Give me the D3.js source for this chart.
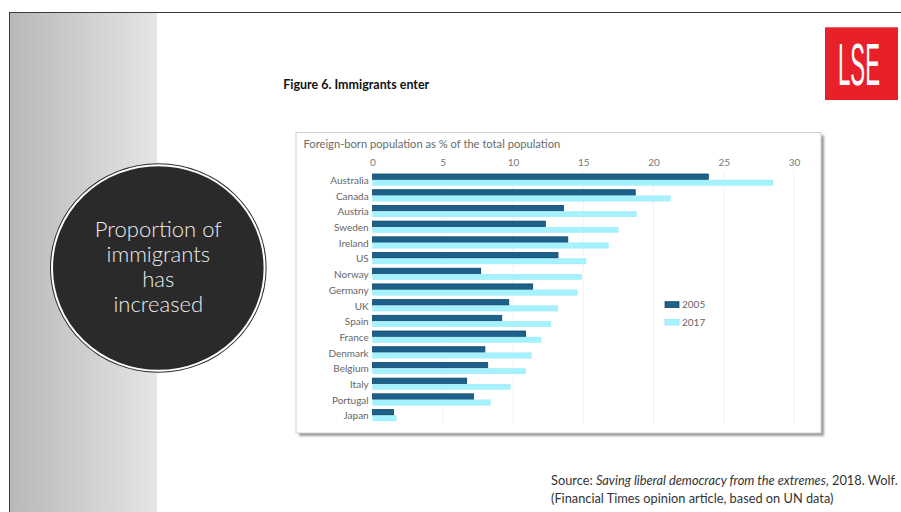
<!DOCTYPE html>
<html>
<head>
<meta charset="utf-8">
<script src="https://cdn.jsdelivr.net/npm/d3@7"></script>
<style>
  html, body { margin: 0; padding: 0; background: #fff; overflow: hidden; }
  svg { display: block; }
</style>
</head>
<body>
<svg id="slide" width="901" height="512"></svg>
<script>
// Foreign-born population as % of total population, 2005 vs 2017
const countries = ["Australia", "Canada", "Austria", "Sweden", "Ireland", "US", "Norway", "Germany",
                   "UK", "Spain", "France", "Denmark", "Belgium", "Italy", "Portugal", "Japan"];
const share2005 = [23.9, 18.7, 13.6, 12.3, 13.9, 13.2, 7.7, 11.4, 9.7, 9.2, 10.9, 8.0, 8.2, 6.7, 7.2, 1.5];
const share2017 = [28.5, 21.2, 18.8, 17.5, 16.8, 15.2, 14.9, 14.6, 13.2, 12.7, 12.0, 11.3, 10.9, 9.8, 8.4, 1.7];
const years = ["2005", "2017"];
const xTicks = [0, 5, 10, 15, 20, 25, 30];

const yearColor = { "2005": "#1d6089", "2017": "#a5f1fd" };
const yearStroke = { "2005": "#0f4868", "2017": "#92e6f4" };

const rows = countries.map((c, i) => ({ country: c, values: { "2005": share2005[i], "2017": share2017[i] } }));

const svg = d3.select("#slide");
const defs = svg.append("defs");

// scale a text element's font size so that it spans the given width
function fitWidth(sel, width) {
  const w = sel.node().getComputedTextLength();
  const fs = parseFloat(sel.attr("font-size"));
  sel.attr("font-size", (fs * width / w).toFixed(2));
  return fs * width / w;
}

// ---- slide frame -------------------------------------------------------
const grad = defs.append("linearGradient").attr("id", "panelGrad")
  .attr("x1", "0%").attr("x2", "100%").attr("y1", "0%").attr("y2", "0%");
grad.append("stop").attr("offset", "0%").attr("stop-color", "#b8b8b8");
grad.append("stop").attr("offset", "100%").attr("stop-color", "#e5e5e5");

svg.append("rect").attr("x", 10).attr("y", 12).attr("width", 147).attr("height", 500)
  .attr("fill", "url(#panelGrad)");
svg.append("line").attr("x1", 9.5).attr("x2", 901).attr("y1", 12.5).attr("y2", 12.5)
  .attr("stroke", "#3a3a3a").attr("stroke-width", 1);
svg.append("line").attr("x1", 9.5).attr("x2", 9.5).attr("y1", 12).attr("y2", 512)
  .attr("stroke", "#3a3a3a").attr("stroke-width", 1);

// ---- circular callout ---------------------------------------------------
const callout = svg.append("g").attr("transform", "translate(158.3,268)");
callout.append("ellipse").attr("rx", 108.3).attr("ry", 104.8).attr("fill", "#2a2a2a");
callout.append("ellipse").attr("rx", 106.3).attr("ry", 102.8).attr("fill", "none")
  .attr("stroke", "#ffffff").attr("stroke-width", 2);
const calloutLines = ["Proportion of", "immigrants", "has", "increased"];
const calloutText = callout.selectAll("text.callout").data(calloutLines).join("text")
  .attr("class", "callout")
  .attr("x", 0)
  .attr("y", (d, i) => -38.7 + i * 25 + 7.5)
  .attr("text-anchor", "middle")
  .attr("font-family", "Lato, 'Open Sans', sans-serif")
  .attr("font-weight", 300)
  .attr("font-size", 20)
  .attr("fill", "#ededed")
  .text(d => d);
const calloutSize = fitWidth(d3.select(calloutText.nodes()[0]), 127);
calloutText.attr("font-size", calloutSize.toFixed(2));

// ---- LSE logo -----------------------------------------------------------
svg.append("rect").attr("x", 825).attr("y", 27.3).attr("width", 73).attr("height", 72.7)
  .attr("fill", "#e8202a");
const logo = svg.append("text").attr("x", 0).attr("y", 0)
  .attr("font-family", "'Liberation Sans Narrow', 'Liberation Sans', Arial, sans-serif")
  .attr("font-size", 59)
  .attr("fill", "#ffffff")
  .text("LSE");
const logoW = logo.node().getComputedTextLength();
logo.attr("transform", `translate(838,85) scale(${(42 / logoW).toFixed(4)},1)`);

// ---- figure title -------------------------------------------------------
const title = svg.append("text").attr("x", 283.3).attr("y", 89.3)
  .attr("font-family", "Lato, 'Open Sans', sans-serif")
  .attr("font-weight", 700).attr("font-size", 11).attr("fill", "#111")
  .text("Figure 6. Immigrants enter");
fitWidth(title, 146);

// ---- chart panel --------------------------------------------------------
const shadow = defs.append("filter").attr("id", "boxShadow")
  .attr("x", "-5%").attr("y", "-5%").attr("width", "110%").attr("height", "110%");
shadow.append("feGaussianBlur").attr("stdDeviation", 1.2);

const box = { x: 296, y: 132.5, w: 525, h: 300.5 };
svg.append("rect").attr("x", box.x + 3).attr("y", box.y + 3).attr("width", box.w).attr("height", box.h)
  .attr("fill", "#9a9a9a").attr("filter", "url(#boxShadow)");
svg.append("rect").attr("x", box.x).attr("y", box.y).attr("width", box.w).attr("height", box.h)
  .attr("fill", "#ffffff").attr("stroke", "#cfcfcf").attr("stroke-width", 1);

const subtitle = svg.append("text").attr("x", 303.5).attr("y", 147.6)
  .attr("font-family", "Lato, 'Open Sans', sans-serif")
  .attr("font-size", 10).attr("fill", "#6a6a6a")
  .text("Foreign-born population as % of the total population");
fitWidth(subtitle, 257);

// scales
const x = d3.scaleLinear().domain([0, 30]).range([372.5, 794]);
const y = d3.scaleBand().domain(countries).range([171.9, 423.1])
  .paddingInner(0.27).paddingOuter(0.135);
const ySub = d3.scaleBand().domain(years).range([0, y.bandwidth()]).paddingInner(0.08);

// faint vertical gridlines
svg.append("g").selectAll("line").data(xTicks.slice(1)).join("line")
  .attr("x1", d => x(d)).attr("x2", d => x(d))
  .attr("y1", 171).attr("y2", 424)
  .attr("stroke", "#f2f2f2").attr("stroke-width", 1);

// top value axis
const xAxis = svg.append("g").attr("transform", "translate(0,170.4)")
  .call(d3.axisTop(x).tickValues(xTicks).tickSize(0).tickPadding(4));
xAxis.select(".domain").remove();
xAxis.selectAll("text")
  .attr("font-family", "Lato, 'Open Sans', sans-serif")
  .attr("font-size", 10).attr("fill", "#777");

// category axis
const yAxis = svg.append("g").attr("transform", `translate(${x(0)},0)`)
  .call(d3.axisLeft(y).tickSize(0).tickPadding(3.8));
yAxis.select(".domain").remove();
yAxis.selectAll("text")
  .attr("font-family", "Lato, 'Open Sans', sans-serif")
  .attr("font-size", 10).attr("fill", "#666")
  .attr("dy", "0.42em");

// bars
const groups = svg.append("g").selectAll("g").data(rows).join("g")
  .attr("transform", d => `translate(0,${y(d.country)})`);
groups.selectAll("rect").data(d => years.map(k => ({ year: k, value: d.values[k] }))).join("rect")
  .attr("x", x(0))
  .attr("y", d => ySub(d.year))
  .attr("width", d => x(d.value) - x(0))
  .attr("height", ySub.bandwidth())
  .attr("fill", d => yearColor[d.year])
  .attr("stroke", d => yearStroke[d.year])
  .attr("stroke-width", d => d.year === "2005" ? 0.8 : 0.3);

// legend
const legend = svg.append("g").selectAll("g").data(years).join("g")
  .attr("transform", (d, i) => `translate(665,${301.7 + i * 17.6})`);
legend.append("rect").attr("width", 14).attr("height", 5.7)
  .attr("fill", d => yearColor[d]).attr("stroke", d => yearStroke[d]).attr("stroke-width", 0.8);
legend.append("text").attr("x", 17).attr("y", 6.4)
  .attr("font-family", "Lato, 'Open Sans', sans-serif")
  .attr("font-size", 10).attr("fill", "#666")
  .text(d => d);

// ---- source note ----------------------------------------------------------
const src1 = svg.append("text").attr("x", 551).attr("y", 485)
  .attr("font-family", "Lato, 'Open Sans', sans-serif")
  .attr("font-size", 11).attr("fill", "#333");
src1.append("tspan").text("Source: ");
src1.append("tspan").attr("font-style", "italic").text("Saving liberal democracy from the extremes");
src1.append("tspan").text(", 2018. Wolf.");
const srcSize = fitWidth(src1, 347);
svg.append("text").attr("x", 551).attr("y", 503)
  .attr("font-family", "Lato, 'Open Sans', sans-serif")
  .attr("font-size", srcSize.toFixed(2)).attr("fill", "#333")
  .text("(Financial Times opinion article, based on UN data)");
</script>
</body>
</html>
